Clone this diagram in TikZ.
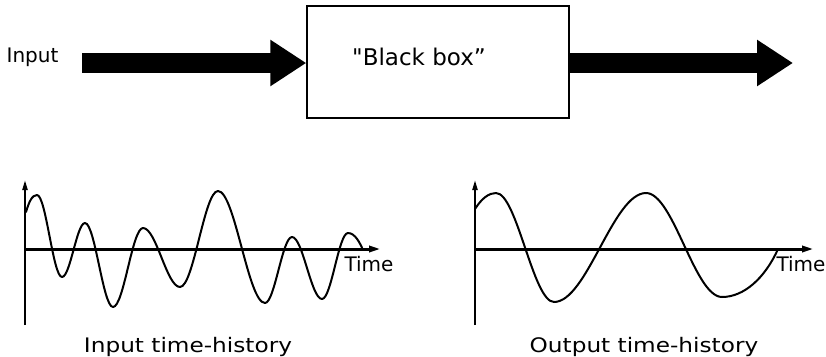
\documentclass[tikz,border=0pt]{standalone}
\usepackage{fontspec}
\setmainfont{DejaVu Sans}[Ligatures=TeXOff]
\usetikzlibrary{arrows.meta}
\begin{document}
\begin{tikzpicture}[x=1pt,y=-1pt,
  lbl/.style={font=\fontsize{20}{24}\selectfont, inner sep=0pt, anchor=base},
  bigarrow/.style={line width=20pt, -{Triangle[length=36pt,width=44pt]}},
  axis/.style={line width=2pt, -{Triangle[length=10pt,width=5pt]}},
  haxis/.style={line width=3pt, -{Triangle[length=12pt,width=6pt]}},
  wave/.style={line width=2pt, line join=round, line cap=round},
  bbox/.style={draw, line width=1.4pt, minimum width=262pt, minimum height=112pt, inner sep=0pt}]
\useasboundingbox (0,0) rectangle (826,356);
% top row
\node[lbl] (inlbl) at (32.5,62) {Input};
\node[bbox] (box) at (438,62) {};
\node[font=\fontsize{23}{27}\selectfont, inner sep=0pt, anchor=base] (bbtxt) at (419,65) {"Black box”};
\coordinate (inS) at (82,63);
\coordinate (outE) at (793,63);
\draw[bigarrow] (inS) -- (box.west |- inS);
\draw[bigarrow] (box.east |- outE) -- (outE);
% input time-history
\coordinate (o1) at (25,249);
\coordinate (v1b) at (25,325);
\coordinate (v1t) at (25,180);
\coordinate (h1e) at (381,249);
\draw[axis] (v1b) -- (v1t);
\draw[haxis] (o1) -- (h1e);
\draw[wave] (26,212) .. controls (29,202) and (32,195) .. (37,195)
  .. controls (46,195) and (53,277) .. (62,277)
  .. controls (70.3,277) and (76.7,223) .. (85,223)
  .. controls (95,223) and (103,307) .. (113,307)
  .. controls (123.8,307) and (132.2,228) .. (143,228)
  .. controls (156.3,228) and (166.7,287) .. (180,287)
  .. controls (193.7,287) and (204.3,191) .. (218,191)
  .. controls (234.9,191) and (248.1,303) .. (265,303)
  .. controls (274.7,303) and (282.3,237) .. (292,237)
  .. controls (302.8,237) and (311.2,299) .. (322,299)
  .. controls (331.4,299) and (338.6,233) .. (348,233)
  .. controls (355,233) and (360,243) .. (363,250);
\node[lbl] (t1) at (369,271) {Time};
\node[lbl] (cap1) at (188,352) {\scalebox{1.16}[1]{Input time-history}};
% output time-history
\coordinate (o2) at (475,249);
\coordinate (v2b) at (475,325);
\coordinate (v2t) at (475,180);
\coordinate (h2e) at (814,249);
\draw[axis] (v2b) -- (v2t);
\draw[haxis] (o2) -- (h2e);
\draw[wave] (475,209) .. controls (482,198) and (489,193) .. (496,193)
  .. controls (516.9,193) and (533.1,302) .. (554,302)
  .. controls (587,302) and (613,193) .. (646,193)
  .. controls (673.4,193) and (694.6,297) .. (722,297)
  .. controls (744,297) and (765,278) .. (778,249);
\node[lbl] (t2) at (801,271) {Time};
\node[lbl] (cap2) at (644,352) {\scalebox{1.16}[1]{Output time-history}};
\end{tikzpicture}
\end{document}
